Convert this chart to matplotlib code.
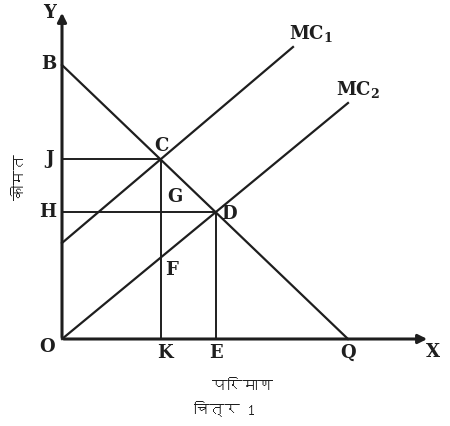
import numpy as np
import matplotlib
matplotlib.use("Agg")
from matplotlib import pyplot as plt
from matplotlib import font_manager
from matplotlib.ft2font import FT2Font

# curves of the diagram (price vs quantity)
demand_x = [0.0, 28.6]      # B -> Q
demand_y = [27.4, 0.0]
mc1_x = [0.0, 23.1]
mc1_y = [9.6, 29.2]
mc2_x = [0.0, 28.6]
mc2_y = [0.0, 23.6]

y_label = "कीमत"
x_label = "परिमाण"
caption = "चित्र 1"


def find_devanagari():
    # pick any installed font that has Devanagari glyphs
    for f in font_manager.fontManager.ttflist:
        try:
            if 0x0915 in FT2Font(f.fname).get_charmap():
                return f.name
        except Exception:
            pass
    return "DejaVu Sans"


hindi = find_devanagari()
plt.rcParams['mathtext.fontset'] = 'dejavuserif'


def line_eq(xs, ys):
    m = (ys[1] - ys[0]) / (xs[1] - xs[0])
    return m, ys[0] - m * xs[0]


def cross(a, b):
    m1, c1 = a
    m2, c2 = b
    x = (c2 - c1) / (m1 - m2)
    return x, m1 * x + c1


dem = line_eq(demand_x, demand_y)
cx, cy = cross(dem, line_eq(mc1_x, mc1_y))   # C
dx, dy = cross(dem, line_eq(mc2_x, mc2_y))   # D
fy = line_eq(mc2_x, mc2_y)[0] * cx            # F

fig = plt.figure(figsize=(4.5, 4.26), dpi=100)
ax = fig.add_axes([0, 0, 1, 1])
ax.set_xlim(-6.2, 38.8)
ax.set_ylim(-8.7, 33.9)
ax.axis('off')

col = '#1e1e1e'
# axes with arrows
ax.annotate('', xy=(0, 32.9), xytext=(0, -0.1),
            arrowprops=dict(arrowstyle='-|>', color=col, lw=2.2, mutation_scale=13))
ax.annotate('', xy=(36.8, 0), xytext=(-0.1, 0),
            arrowprops=dict(arrowstyle='-|>', color=col, lw=2.2, mutation_scale=13))

ax.plot(demand_x, demand_y, color=col, lw=1.6)
ax.plot(mc1_x, mc1_y, color=col, lw=1.6)
ax.plot(mc2_x, mc2_y, color=col, lw=1.6)

# guide lines
ax.plot([0, cx], [cy, cy], color=col, lw=1.4)
ax.plot([cx, cx], [0, cy], color=col, lw=1.4)
ax.plot([0, dx], [dy, dy], color=col, lw=1.4)
ax.plot([dx, dx], [0, dy], color=col, lw=1.4)

fs = 13
kw = dict(fontsize=fs, fontfamily='DejaVu Serif', fontweight='bold', color=col,
          ha='center', va='center')
ax.text(-1.2, 32.6, 'Y', **kw)
ax.text(-1.3, demand_y[0] + 0.1, 'B', **kw)
ax.text(-1.3, cy, 'J', **kw)
ax.text(-1.4, dy, 'H', **kw)
ax.text(-1.5, -0.8, 'O', **kw)
ax.text(cx + 0.4, -1.4, 'K', **kw)
ax.text(dx, -1.4, 'E', **kw)
ax.text(demand_x[1], -1.4, 'Q', **kw)
ax.text(37.1, -1.3, 'X', **kw)
ax.text(cx + 0.1, cy + 1.3, 'C', **kw)
ax.text(cx + 1.4, dy + 1.5, 'G', **kw)
ax.text(dx + 1.3, dy - 0.2, 'D', **kw)
ax.text(cx + 1.1, fy - 1.2, 'F', **kw)
ax.text(24.9, 30.5, r'$\mathbf{MC_1}$', fontsize=fs, color=col, ha='center', va='center')
ax.text(29.6, 24.9, r'$\mathbf{MC_2}$', fontsize=fs, color=col, ha='center', va='center')

ax.text(-4.1, 16.2, y_label, fontsize=11, family=[hindi, 'DejaVu Sans'], rotation=90,
        ha='center', va='center', color=col)
ax.text(18.0, -4.8, x_label, fontsize=11, family=[hindi, 'DejaVu Sans'],
        ha='center', va='center', color=col)
ax.text(16.3, -7.0, caption, fontsize=11, family=[hindi, 'DejaVu Sans'], fontweight='bold',
        ha='center', va='center', color=col)

plt.savefig('out.png', dpi=100)
